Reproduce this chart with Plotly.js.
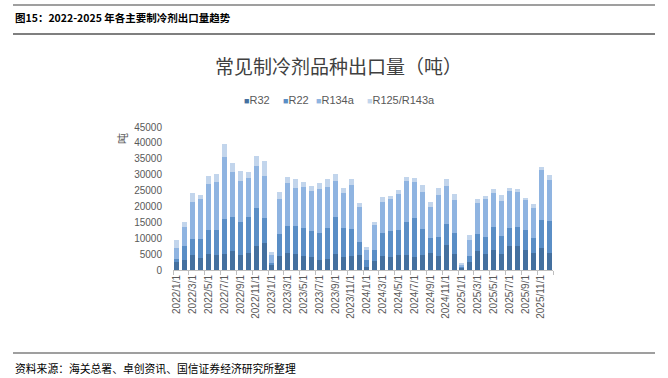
<!DOCTYPE html>
<html>
<head>
<meta charset="utf-8">
<script src="https://cdn.plot.ly/plotly-3.0.1.min.js"></script>
<style>
html,body{margin:0;padding:0;background:#fff;}
#chart{width:668px;height:378px;}
</style>
</head>
<body>
<div id="chart"></div>
<script>
var categories = [
  "2022/1/1","2022/2/1","2022/3/1","2022/4/1","2022/5/1","2022/6/1","2022/7/1","2022/8/1","2022/9/1","2022/10/1","2022/11/1","2022/12/1",
  "2023/1/1","2023/2/1","2023/3/1","2023/4/1","2023/5/1","2023/6/1","2023/7/1","2023/8/1","2023/9/1","2023/10/1","2023/11/1","2023/12/1",
  "2024/1/1","2024/2/1","2024/3/1","2024/4/1","2024/5/1","2024/6/1","2024/7/1","2024/8/1","2024/9/1","2024/10/1","2024/11/1","2024/12/1",
  "2025/1/1","2025/2/1","2025/3/1","2025/4/1","2025/5/1","2025/6/1","2025/7/1","2025/8/1","2025/9/1","2025/10/1","2025/11/1","2025/12/1"
];
var seriesNames = ["R32", "R22", "R134a", "R125/R143a"];
var R32 = [2400,3100,4600,3700,5000,4600,5000,6100,4600,5300,7500,8600,
           1500,4300,5400,5000,4500,4100,3300,3600,5000,4000,4300,4600,
           1100,2800,4500,4200,4600,4800,4100,4800,5200,4400,8000,5100,
           700,2400,5900,5000,6400,5000,7400,7400,6300,5200,6800,5200];
var R22 = [1200,4600,5000,6100,7700,7900,11000,10500,10400,11300,12100,7700,
           600,7100,8500,8700,8800,8300,8400,9500,11800,9300,8700,4300,
           1900,3400,7200,8200,8000,10400,12400,8100,4900,6100,6600,6700,
           300,2100,5300,5300,7200,5800,5900,6200,6200,4800,9000,10200];
var R134a = [3300,5700,11900,12700,14400,15200,19600,14100,12900,12200,13100,13200,
             2600,11000,13500,12200,12800,12600,13700,13000,11300,11000,13700,10900,
             3400,8100,9800,9900,11300,12700,11200,11800,9800,13100,11800,10100,
             600,5000,9800,12000,10700,11000,11500,10900,9500,9400,15600,12900];
var R125 = [2600,1700,2800,1100,2600,2600,4200,3100,3300,1900,3200,4800,
            1000,2300,1900,2600,1600,1500,2000,2600,2100,1400,1800,1200,
            900,900,1500,900,1400,1300,1400,1900,1500,2200,2100,2000,
            500,1500,1400,1100,1300,1700,1100,900,800,1300,1100,1600];
var yTicks = [0,5000,10000,15000,20000,25000,30000,35000,40000,45000];
var colors = ["#44709f", "#5a8ec6", "#8fb4e1", "#c2d5ec"];

var values = [R32, R22, R134a, R125];
var traces = values.map(function(v, i){
  return {
    type: "bar", x: categories, y: v, name: seriesNames[i],
    marker: {color: colors[i]}, showlegend: false,
    hovertemplate: "%{x}<br>" + seriesNames[i] + ": %{y}<extra></extra>"
  };
});

var FONT = "'Liberation Sans', Arial, sans-serif";
var CJK = "'Noto Sans CJK SC', sans-serif";

// paper-coordinate helpers from pixel positions (plot area: x 173..553, y 127..270)
var L = 173, R = 115, T = 127, B = 108;
var W = 668 - L - R, H = 378 - T - B;
function px(x){ return (x - L) / W; }
function py(y){ return (378 - B - y) / H; }

function ann(o){ o.xref = "paper"; o.yref = "paper"; o.showarrow = false; return o; }

var annotations = [
  ann({text: "图15：2022-2025 年各主要制冷剂出口量趋势", x: px(13), y: py(18), xanchor: "left", yanchor: "middle",
   font: {family: CJK, size: 10.5, color: "#000", weight: 700}}),
  ann({text: "常见制冷剂品种出口量（吨）", x: px(338), y: py(66), xanchor: "center", yanchor: "middle",
   font: {family: CJK, size: 19, color: "#404040"}}),
  ann({text: "资料来源：海关总署、卓创资讯、国信证券经济研究所整理", x: px(13), y: py(368), xanchor: "left", yanchor: "middle",
   font: {family: CJK, size: 10.8, color: "#000"}}),
  ann({text: "吨", x: px(122), y: py(139), xanchor: "center", yanchor: "middle", textangle: -90,
   font: {family: CJK, size: 11, color: "#595959"}})
];
var legendX = [242, 281, 314, 365];
seriesNames.forEach(function(n, i){
  annotations.push(ann({
    text: "<span style='color:" + colors[i] + ";font-size:9px'>■</span>" + n,
    x: px(legendX[i]), y: py(100), xanchor: "left", yanchor: "middle",
    font: {family: FONT, size: 11, color: "#595959"}
  }));
});

var layout = {
  width: 668, height: 378,
  margin: {l: L, r: R, t: T, b: B, pad: 0},
  paper_bgcolor: "#fff", plot_bgcolor: "#fff",
  barmode: "stack", bargap: 0.36,
  showlegend: false,
  xaxis: {
    type: "category", categoryorder: "array", categoryarray: categories,
    range: [-0.5, categories.length - 0.5],
    tickmode: "linear", tick0: 0, dtick: 2,
    tickangle: -90, tickson: "boundaries",
    ticks: "outside", ticklen: 4, tickcolor: "#bfbfbf", tickwidth: 1,
    showline: true, linecolor: "#bfbfbf", linewidth: 1,
    showgrid: false, zeroline: false,
    tickfont: {family: FONT, size: 10, color: "#595959"},
    fixedrange: true
  },
  yaxis: {
    range: [0, 45000], tickmode: "array", tickvals: yTicks, ticktext: yTicks.map(String),
    showgrid: false, zeroline: false, showline: false, ticks: "",
    ticklabelstandoff: 10,
    tickfont: {family: FONT, size: 10, color: "#595959"},
    fixedrange: true
  },
  shapes: [
    {type: "line", xref: "paper", yref: "paper", x0: px(13), x1: px(655), y0: py(5), y1: py(5),
     line: {color: "#7f7f7f", width: 1.5}},
    {type: "line", xref: "paper", yref: "paper", x0: px(13), x1: px(655), y0: py(34), y1: py(34),
     line: {color: "#000", width: 1.2}},
    {type: "line", xref: "paper", yref: "paper", x0: px(13), x1: px(655), y0: py(353), y1: py(353),
     line: {color: "#7f7f7f", width: 1.5}}
  ],
  annotations: annotations
};

Plotly.newPlot("chart", traces, layout, {displayModeBar: false, staticPlot: true});
</script>
</body>
</html>
